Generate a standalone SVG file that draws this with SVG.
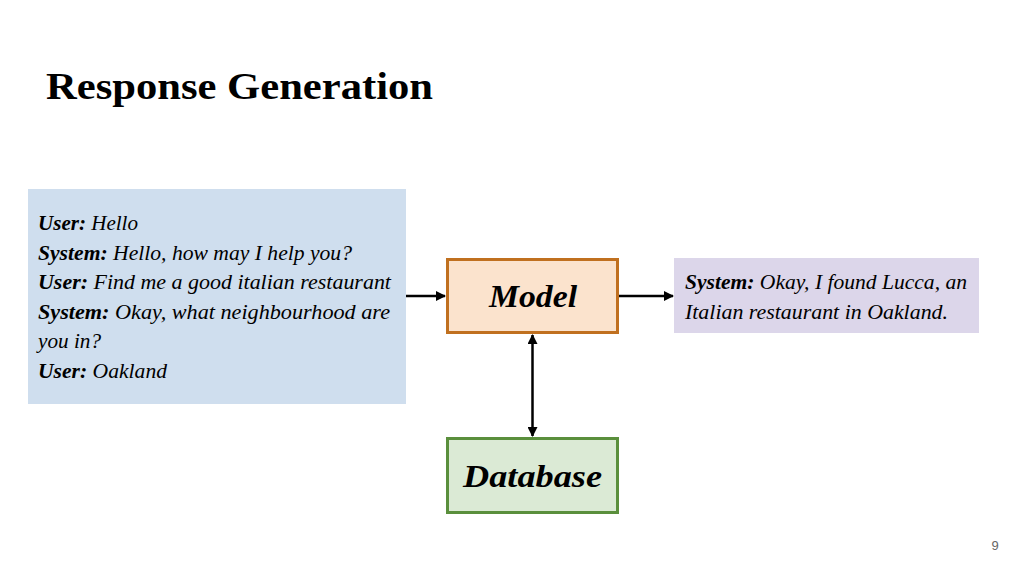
<svg xmlns="http://www.w3.org/2000/svg" width="1024" height="576" viewBox="0 0 1024 576">
<style>
.t{font-family:"Liberation Serif","DejaVu Serif",serif;fill:#000}
.dlg{font-size:20.5px;font-style:italic}
.b{font-weight:bold}
.lbl{font-size:32px;font-weight:bold;font-style:italic;text-anchor:middle}
.conn{stroke:#000;stroke-width:2.5;fill:none}
</style>
<defs>
<marker id="ah" viewBox="0 0 10 10" refX="9" refY="5" markerWidth="4" markerHeight="4" orient="auto-start-reverse">
<path d="M0,0 L10,5 L0,10 z" fill="#000"/>
</marker>
</defs>
<rect width="1024" height="576" fill="#fff"/>
<text class="t b" x="46" y="99" font-size="38" textLength="387" lengthAdjust="spacingAndGlyphs">Response Generation</text>
<g id="dialogue">
<rect x="28" y="189" width="378" height="215" fill="#cfdeee"/>
<text class="t dlg" x="38" y="230" textLength="100" lengthAdjust="spacingAndGlyphs"><tspan class="b">User:</tspan> Hello</text>
<text class="t dlg" x="38" y="259.5" textLength="314" lengthAdjust="spacingAndGlyphs"><tspan class="b">System:</tspan> Hello, how may I help you?</text>
<text class="t dlg" x="38" y="289" textLength="353" lengthAdjust="spacingAndGlyphs"><tspan class="b">User:</tspan> Find me a good italian restaurant</text>
<text class="t dlg" x="38" y="318.5" textLength="352" lengthAdjust="spacingAndGlyphs"><tspan class="b">System:</tspan> Okay, what neighbourhood are</text>
<text class="t dlg" x="38" y="348" textLength="63" lengthAdjust="spacingAndGlyphs">you in?</text>
<text class="t dlg" x="38" y="377.5" textLength="129" lengthAdjust="spacingAndGlyphs"><tspan class="b">User:</tspan> Oakland</text>
</g>
<g id="model">
<rect x="447.5" y="259.5" width="170" height="73" fill="#fbe3cd" stroke="#c0701f" stroke-width="3"/>
<text class="t lbl" x="533" y="307" textLength="88" lengthAdjust="spacingAndGlyphs">Model</text>
</g>
<g id="response">
<rect x="674" y="258" width="305" height="75" fill="#dcd6ea"/>
<text class="t dlg" x="685" y="289" textLength="282" lengthAdjust="spacingAndGlyphs"><tspan class="b">System:</tspan> Okay, I found Lucca, an</text>
<text class="t dlg" x="685" y="318.5" textLength="263" lengthAdjust="spacingAndGlyphs">Italian restaurant in Oakland.</text>
</g>
<g id="database">
<rect x="447.5" y="438.5" width="170" height="74" fill="#dbead5" stroke="#5a8f3c" stroke-width="3"/>
<text class="t lbl" x="532.5" y="487" textLength="139" lengthAdjust="spacingAndGlyphs">Database</text>
</g>
<g id="connectors">
<line class="conn" x1="406" y1="296" x2="445" y2="296" marker-end="url(#ah)"/>
<line class="conn" x1="619" y1="296" x2="673" y2="296" marker-end="url(#ah)"/>
<line class="conn" x1="532.5" y1="335" x2="532.5" y2="436" marker-start="url(#ah)" marker-end="url(#ah)"/>
</g>
<text x="995" y="550" font-family="Liberation Sans,Arial,sans-serif" font-size="13" fill="#666" text-anchor="middle">9</text>
</svg>
